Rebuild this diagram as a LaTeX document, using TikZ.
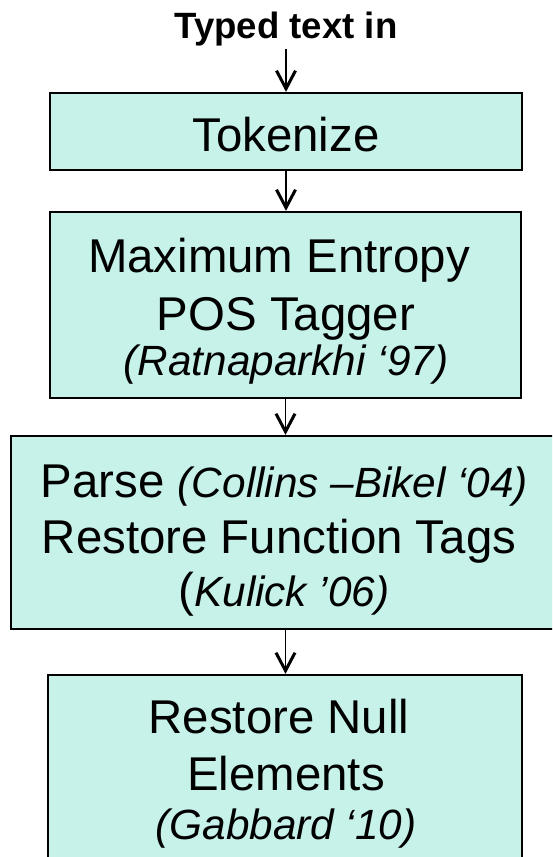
\documentclass[tikz,border=0pt]{standalone}
\usepackage{fontspec}
\setmainfont{Liberation Sans}
\usetikzlibrary{arrows.meta}
\definecolor{stagefill}{HTML}{C6F2EA}
\newcommand{\citefont}{\fontsize{42.3}{50}\selectfont\itshape}
\begin{document}
\begin{tikzpicture}[x=1pt,y=-1pt,
  stage/.style={draw=black, line width=2.2pt, fill=stagefill, rectangle, inner sep=0pt},
  flow/.style={line width=1.4pt, -{Straight Barb[length=18pt,width=19pt,line width=3pt]}},
  big/.style={font=\fontsize{47.4}{56}\selectfont, anchor=base, inner sep=0pt},
  cite/.style={font=\citefont, anchor=base, inner sep=0pt},
  head/.style={font=\fontsize{36.6}{42}\selectfont\bfseries, anchor=base, inner sep=0pt}]
\useasboundingbox (0,0) rectangle (552,857);
\clip (0,0) rectangle (552,857);

% pipeline stages
\node[stage, minimum width=472pt, minimum height=77pt]  (tok)   at (286,131.5) {};
\node[stage, minimum width=471pt, minimum height=186pt] (pos)   at (285.5,305) {};
\node[stage, minimum width=544pt, minimum height=193pt] (parse) at (283,532.5) {};
\node[stage, minimum width=474pt, minimum height=205pt] (null)  at (285,777.5) {};

% labels
\node[head] (input) at (286,38) {Typed text in};
\node[big]  (tokA)  at (286,151) {Tokenize};
\node[big]  (posA)  at (279,272) {Maximum Entropy};
\node[big]  (posB)  at (286,330) {POS Tagger};
\node[cite] (posC)  at (286,375) {(Ratnaparkhi ‘97)};
\node[big]  (parA)  at (284.5,497) {Parse {\citefont(Collins –Bikel ‘04)}};
\node[big]  (parB)  at (279,553) {Restore Function Tags};
\node[big]  (parC)  at (284,606) {({\citefont Kulick ’06)}};
\node[big]  (nulA)  at (279,733) {Restore Null};
\node[big]  (nulB)  at (286,790) {Elements};
\node[cite] (nulC)  at (286,839) {(Gabbard ‘10)};

% connectors
\draw[flow, shorten <=3pt] (input.south) -- (input.south |- tok.north);
\draw[flow] (tok.south) -- (tok.south |- pos.north);
\draw[flow] (pos.south) -- (pos.south |- parse.north);
\draw[flow] (pos.south |- parse.south) -- (pos.south |- null.north);
\end{tikzpicture}
\end{document}
